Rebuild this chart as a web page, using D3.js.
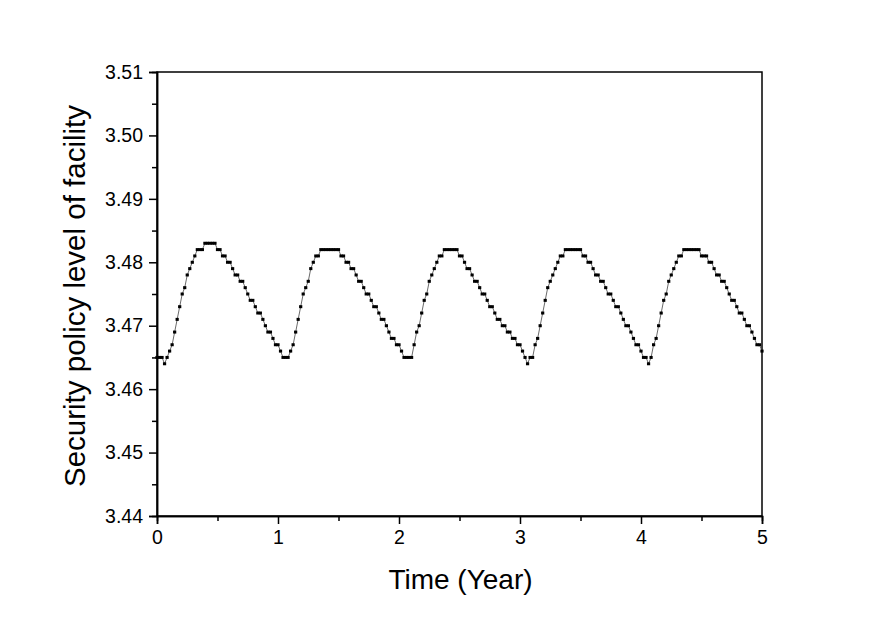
<!DOCTYPE html>
<html>
<head>
<meta charset="utf-8">
<script src="https://cdn.jsdelivr.net/npm/d3@7/dist/d3.min.js"></script>
<style>
  html, body { margin: 0; padding: 0; background: #fff; }
  svg { display: block; }
  text { font-family: "Liberation Sans", Arial, sans-serif; fill: #000; }
</style>
</head>
<body>
<svg id="chart" width="885" height="618"></svg>
<script>
// ---- data (time step = 1/48 year, k = 0..240) ----
const timeStepsPerYear = 48;
const securityLevel = [
  // year 1
  3.465,3.465,3.465,3.464,3.465,3.466,3.467,3.469,3.471,3.473,3.475,3.476,
  3.478,3.479,3.480,3.481,3.482,3.482,3.482,3.483,3.483,3.483,3.483,3.483,
  3.482,3.482,3.481,3.481,3.480,3.480,3.479,3.478,3.478,3.477,3.477,3.476,
  3.475,3.474,3.474,3.473,3.472,3.472,3.471,3.470,3.469,3.469,3.468,3.467,
  // year 2
  3.467,3.466,3.465,3.465,3.465,3.466,3.467,3.469,3.471,3.473,3.475,3.476,
  3.477,3.479,3.480,3.481,3.481,3.482,3.482,3.482,3.482,3.482,3.482,3.482,
  3.482,3.481,3.481,3.480,3.480,3.479,3.479,3.478,3.477,3.477,3.476,3.475,
  3.475,3.474,3.473,3.473,3.472,3.471,3.471,3.470,3.469,3.468,3.468,3.467,
  // year 3
  3.467,3.466,3.465,3.465,3.465,3.465,3.467,3.469,3.470,3.472,3.474,3.475,
  3.477,3.478,3.479,3.480,3.481,3.481,3.482,3.482,3.482,3.482,3.482,3.482,
  3.481,3.481,3.480,3.479,3.479,3.478,3.477,3.477,3.476,3.475,3.475,3.474,
  3.473,3.473,3.472,3.471,3.471,3.470,3.470,3.469,3.469,3.468,3.468,3.467,
  // year 4
  3.467,3.466,3.465,3.464,3.465,3.465,3.467,3.468,3.470,3.472,3.474,3.476,
  3.477,3.478,3.479,3.480,3.481,3.481,3.482,3.482,3.482,3.482,3.482,3.482,
  3.482,3.481,3.481,3.480,3.480,3.479,3.478,3.478,3.477,3.477,3.476,3.475,
  3.475,3.474,3.473,3.473,3.472,3.471,3.470,3.470,3.469,3.468,3.467,3.467,
  // year 5
  3.466,3.465,3.465,3.464,3.465,3.467,3.468,3.470,3.472,3.474,3.475,3.477,
  3.478,3.479,3.480,3.481,3.481,3.482,3.482,3.482,3.482,3.482,3.482,3.482,
  3.481,3.481,3.481,3.480,3.480,3.479,3.478,3.478,3.477,3.477,3.476,3.475,
  3.474,3.474,3.473,3.472,3.472,3.471,3.470,3.470,3.469,3.468,3.467,3.467,
  3.466
];
const xTicks = [0, 1, 2, 3, 4, 5];
const xMinorTicks = [0.5, 1.5, 2.5, 3.5, 4.5];
const yTicks = [3.44, 3.45, 3.46, 3.47, 3.48, 3.49, 3.50, 3.51];
const yMinorTicks = [3.445, 3.455, 3.465, 3.475, 3.485, 3.495, 3.505];
const xTitle = "Time (Year)";
const yTitle = "Security policy level of facility";

const points = securityLevel.map((v, k) => ({ t: k / timeStepsPerYear, v }));

// ---- layout ----
const svg = d3.select("#chart");
const mLeft = 157, mRight = 762, mTop = 72, mBottom = 516;

const x = d3.scaleLinear().domain([0, 5]).range([mLeft, mRight]);
const y = d3.scaleLinear().domain([3.44, 3.51]).range([mBottom, mTop]);

const fontTick = 19.5;

// frame
svg.append("rect")
  .attr("x", mLeft).attr("y", mTop)
  .attr("width", mRight - mLeft).attr("height", mBottom - mTop)
  .attr("fill", "none").attr("stroke", "#000").attr("stroke-width", 1.5);

// x axis
const xAxis = d3.axisBottom(x).tickValues(xTicks).tickFormat(d3.format("d"))
  .tickSize(8).tickPadding(6);
const gx = svg.append("g").attr("transform", `translate(0,${mBottom})`).call(xAxis);
const xMinor = d3.axisBottom(x).tickValues(xMinorTicks).tickFormat("").tickSize(5);
const gxm = svg.append("g").attr("transform", `translate(0,${mBottom})`).call(xMinor);

// y axis
const yAxis = d3.axisLeft(y).tickValues(yTicks).tickFormat(d3.format(".2f"))
  .tickSize(8).tickPadding(6);
const gy = svg.append("g").attr("transform", `translate(${mLeft},0)`).call(yAxis);
const yMinor = d3.axisLeft(y).tickValues(yMinorTicks).tickFormat("").tickSize(5);
const gym = svg.append("g").attr("transform", `translate(${mLeft},0)`).call(yMinor);

[gx, gxm, gy, gym].forEach(g => {
  g.select(".domain").attr("stroke", "#000").attr("stroke-width", 1.5);
  g.selectAll(".tick line").attr("stroke", "#000").attr("stroke-width", 1.5);
  g.selectAll(".tick text")
    .attr("font-family", '"Liberation Sans", Arial, sans-serif')
    .attr("font-size", fontTick).attr("fill", "#000");
});

// titles
svg.append("text")
  .attr("x", (mLeft + mRight) / 2 + 1).attr("y", 589)
  .attr("text-anchor", "middle")
  .attr("font-size", 28)
  .text(xTitle);

svg.append("text")
  .attr("transform", `translate(85,${(mTop + mBottom) / 2 + 2}) rotate(-90)`)
  .attr("text-anchor", "middle")
  .attr("font-size", 29.5)
  .text(yTitle);

// line
const line = d3.line().x(d => x(d.t)).y(d => y(d.v));
svg.append("path")
  .datum(points)
  .attr("d", line)
  .attr("fill", "none")
  .attr("stroke", "#444")
  .attr("stroke-width", 0.8);

// markers
svg.append("g").selectAll("rect")
  .data(points)
  .join("rect")
  .attr("x", d => x(d.t) - 1.6)
  .attr("y", d => y(d.v) - 1.5)
  .attr("width", 3.2)
  .attr("height", 3)
  .attr("fill", "#000");
</script>
</body>
</html>
